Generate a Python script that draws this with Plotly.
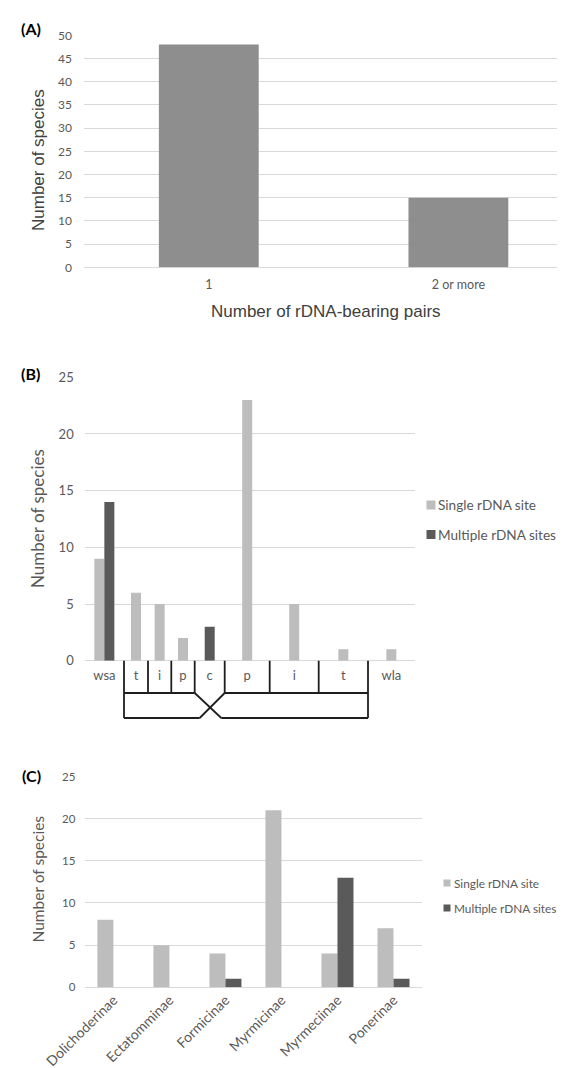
import plotly.graph_objects as go
import numpy as np

# ---------------- data ----------------
# Panel A
pairs_cats = ["1", "2 or more"]
pairs_counts = [48, 15]

# Panel B (chromosome position of rDNA)
pos_labels = ["wsa", "t", "i", "p", "c", "p", "i", "t", "wla"]
pos_single = [9, 6, 5, 2, 0, 23, 5, 1, 1]
pos_multiple = [14, 0, 0, 0, 3, 0, 0, 0, 0]

# Panel C (subfamilies)
subfamilies = ["Dolichoderinae", "Ectatomminae", "Formicinae", "Myrmicinae", "Myrmeciinae", "Ponerinae"]
sub_single = [8, 5, 4, 21, 4, 7]
sub_multiple = [0, 0, 1, 0, 13, 1]

series_names = ["Single rDNA site", "Multiple rDNA sites"]

# ---------------- styling / layout constants ----------------
W, H = 565, 1068
def px(x):
    return x / W
def py(y):
    return 1 - y / H

COL_A = "#8e8e8e"
COL_LIGHT = "#bdbdbd"
COL_DARK = "#5a5a5a"
GRID = "#d9d9d9"
TICK = "#595959"
CAL = "Lato, Carlito, Calibri, sans-serif"
ARI = "Liberation Sans, Arial, sans-serif"

# widths of the cells of the chromosome table under panel B (axis units)
CELL_W = [39.3, 24.0, 23.3, 23.4, 30.0, 45.0, 49.0, 49.3, 46.7]
edges = np.concatenate([[0], np.cumsum(CELL_W)])
centers = (edges[:-1] + edges[1:]) / 2
BW = 10.0  # bar width in panel B axis units

fig = go.Figure()

# ---------------- Panel A ----------------
fig.add_trace(go.Bar(x=pairs_cats, y=pairs_counts, marker_color=COL_A, width=0.4,
                     xaxis="x", yaxis="y", showlegend=False))

# ---------------- Panel B ----------------
off_s = [(-BW if m > 0 else -BW / 2) for m in pos_multiple]
off_m = [(0 if s > 0 else -BW / 2) for s in pos_single]
fig.add_trace(go.Bar(x=centers, y=pos_single, width=BW, offset=off_s, marker_color=COL_LIGHT,
                     name=series_names[0], xaxis="x2", yaxis="y2", showlegend=False))
fig.add_trace(go.Bar(x=centers, y=pos_multiple, width=BW, offset=off_m, marker_color=COL_DARK,
                     name=series_names[1], xaxis="x2", yaxis="y2", showlegend=False))

# ---------------- Panel C ----------------
cw = 16 / 56
fig.add_trace(go.Bar(x=subfamilies, y=sub_single, width=cw, offset=-cw, marker_color=COL_LIGHT,
                     name=series_names[0], xaxis="x3", yaxis="y3", showlegend=False))
fig.add_trace(go.Bar(x=subfamilies, y=sub_multiple, width=cw, offset=0, marker_color=COL_DARK,
                     name=series_names[1], xaxis="x3", yaxis="y3", showlegend=False))

for tr in fig.data:
    tr.marker.line.width = 0

yax_common = dict(showline=False, zeroline=True, zerolinecolor=GRID, zerolinewidth=1,
                  gridcolor=GRID, gridwidth=1, ticks="", fixedrange=True)

fig.update_layout(
    width=W, height=H, margin=dict(l=0, r=0, t=0, b=0, autoexpand=False),
    paper_bgcolor="white", plot_bgcolor="white", barmode="overlay",
    showlegend=False,
    xaxis=dict(domain=[px(76), px(562.7)], anchor="y", type="category", range=[-0.5, 1.45],
               showgrid=False, showline=False, zeroline=False, ticks="",
               tickfont=dict(family=CAL, size=12.5, color=TICK), ticklabelstandoff=8),
    yaxis=dict(domain=[py(259.3), py(27.3)], anchor="x", range=[0, 50], dtick=5,
               tickfont=dict(family=CAL, size=12, color=TICK), ticklabelstandoff=11, **yax_common),
    xaxis2=dict(domain=[px(76.7), px(406.7)], anchor="y2", range=[0, edges[-1]],
                tickvals=centers, ticktext=pos_labels, showgrid=False, showline=False,
                zeroline=False, ticks="", tickfont=dict(family=CAL, size=13, color=TICK),
                ticklabelstandoff=5),
    yaxis2=dict(domain=[py(652.7), py(369.3)], anchor="x2", range=[0, 25], dtick=5,
                tickfont=dict(family=CAL, size=13, color=TICK), ticklabelstandoff=10, **yax_common),
    xaxis3=dict(domain=[px(77.4), px(413.5)], anchor="y3", type="category", range=[-0.5, 5.5],
                showgrid=False, showline=False, zeroline=False, ticks="", tickangle=-45,
                tickfont=dict(family=CAL, size=14, color=TICK), ticklabelstandoff=1),
    yaxis3=dict(domain=[py(979.3), py(768.5)], anchor="x3", range=[0, 25], dtick=5,
                tickfont=dict(family=CAL, size=11.5, color=TICK), ticklabelstandoff=9, **yax_common),
)

ann = []
def text(x, y, t, size, family=CAL, color=TICK, xanchor="center", angle=0, bold=False):
    ann.append(dict(x=px(x), y=py(y), xref="paper", yref="paper", text=("<b>%s</b>" % t if bold else t),
                    showarrow=False, xanchor=xanchor, yanchor="middle", textangle=angle,
                    font=dict(family=family, size=size, color=color)))

# panel letters
text(22.5, 20, "(A)", 16, color="black", bold=True)
text(22.5, 365, "(B)", 16, color="black", bold=True)
text(23, 767, "(C)", 16, color="black", bold=True)

# axis titles
text(318, 303, "Number of rDNA-bearing pairs", 17, family=ARI, color="#404040")
text(30, 152, "Number of species", 17, family=ARI, color="#404040", angle=-90)
text(29, 511, "Number of species", 17, angle=-90)
text(29.5, 871, "Number of species", 15.5, angle=-90)

shapes = []
# legends (B and C)
def legend_item(xsq, ysq, sz, color, xt, label, fsize):
    shapes.append(dict(type="rect", xref="paper", yref="paper",
                       x0=px(xsq - sz / 2), x1=px(xsq + sz / 2), y0=py(ysq + sz / 2), y1=py(ysq - sz / 2),
                       fillcolor=color, line=dict(width=0)))
    text(xt, ysq, label, fsize, xanchor="left")

legend_item(423, 497, 9, COL_LIGHT, 428, series_names[0], 13.6)
legend_item(423, 526.5, 9, COL_DARK, 428, series_names[1], 13.6)
legend_item(439, 875, 7, COL_LIGHT, 444, series_names[0], 11.8)
legend_item(439, 900, 7, COL_DARK, 444, series_names[1], 11.8)

# chromosome table under panel B (x in axis units of x2, y in pixels)
LINE = dict(color="#1e1e1e", width=1.8)
y_axis0, y_top, y_bot = 652.7, 685, 710
def seg(x0, y0, x1, y1):
    shapes.append(dict(type="line", xref="x2", yref="paper", x0=x0, x1=x1, y0=py(y0), y1=py(y1), line=LINE))

for e in edges[1:-1]:
    seg(e, y_axis0, e, y_top)
# outer verticals down to the bottom line
seg(edges[1], y_top, edges[1], y_bot)
seg(edges[-2], y_top, edges[-2], y_bot)
cl, cr = edges[4], edges[5]
# top lines
seg(edges[1], y_top, cl, y_top)
seg(cr, y_top, edges[-2], y_top)
# bottom lines
seg(edges[1], y_bot, cl + 5, y_bot)
seg(cr - 3.4, y_bot, edges[-2], y_bot)
# centromere cross
seg(cl, y_top, cr - 3.4, y_bot)
seg(cr, y_top, cl + 5, y_bot)

fig.update_layout(annotations=ann, shapes=shapes)
fig.write_html("out.html")
